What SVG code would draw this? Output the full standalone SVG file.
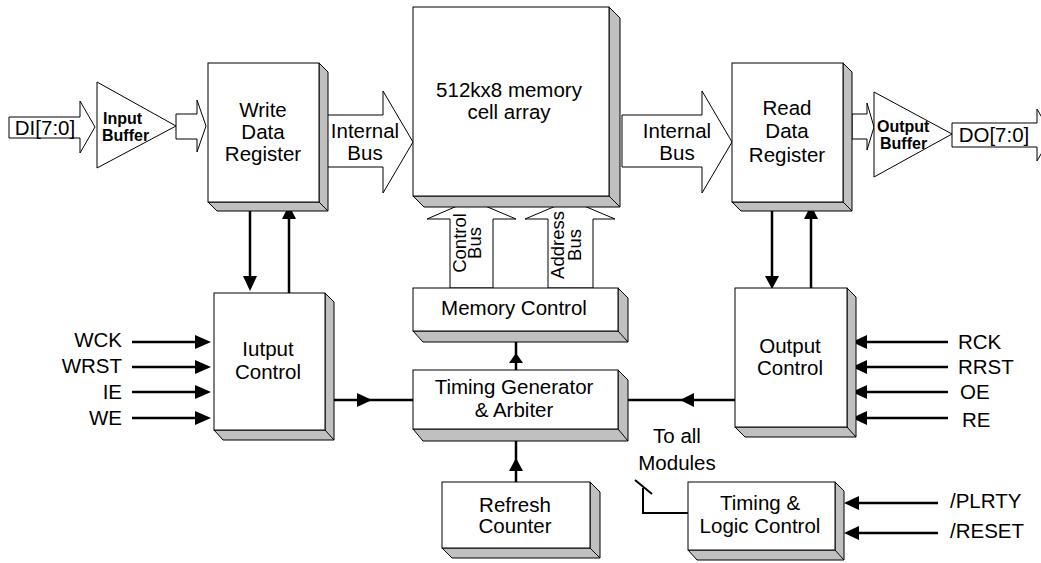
<svg xmlns="http://www.w3.org/2000/svg" width="1041" height="563" viewBox="0 0 1041 563">
<style>
text{font-family:"Liberation Sans",Arial,sans-serif;font-size:20.5px;fill:#000}
.c{text-anchor:middle}
.e{text-anchor:end}
.b{font-weight:bold;font-size:16px}
.r{font-size:18.5px;text-anchor:middle}
.face{fill:#fff;stroke:#000;stroke-width:1}
.sh{fill:#c0c0c0;stroke:#000;stroke-width:1}
.blk{fill:#fff;stroke:#000;stroke-width:1}
.ln{fill:none;stroke:#000;stroke-width:2.5}
.ah{fill:#000;stroke:none}
</style>
<rect width="1041" height="563" fill="#fff"/>

<g id="connectors">
  <polygon class="blk" points="9,117 80,117 80,101 95,127 80,153 80,138 9,138"/>
  <polygon class="blk" points="176,114 197,114 197,100 206,126 197,152 197,139 176,139"/>
  <polygon class="blk" points="319,115 383,115 383,91 413,142 383,193 383,167 319,167"/>
  <polygon class="blk" points="622,115 702,115 702,91 732,142 702,193 702,167 622,167"/>
  <polygon class="blk" points="852,114 867,114 867,103 874,127 867,150 867,139 852,139"/>
  <polygon class="blk" points="952,123 1037,123 1037,109 1052,135 1037,161 1037,147 952,147"/>
  <text class="c" x="45" y="135">DI[7:0]</text>
  <text class="c" x="365" y="138">Internal</text>
  <text class="c" x="365" y="160">Bus</text>
  <text class="c" x="677" y="138">Internal</text>
  <text class="c" x="677" y="160">Bus</text>
  <text class="c" x="994" y="142">DO[7:0]</text>

  <polygon class="blk" points="450,288 450,219 427,219 471,200 516,219 493,219 493,288"/>
  <polygon class="blk" points="548,288 548,219 525,219 570,200 615,219 593,219 593,288"/>
  <text class="r" transform="translate(466,243) rotate(-90)">Control</text>
  <text class="r" transform="translate(481,243) rotate(-90)">Bus</text>
  <text class="r" transform="translate(564,245) rotate(-90)">Address</text>
  <text class="r" transform="translate(581,245) rotate(-90)">Bus</text>

  <line class="ln" x1="250" y1="211" x2="250" y2="278"/>
  <polygon class="ah" points="243,276 257,276 250,291"/>
  <line class="ln" x1="289" y1="293" x2="289" y2="217"/>
  <polygon class="ah" points="282,219 296,219 289,205"/>
  <line class="ln" x1="772" y1="211" x2="772" y2="278"/>
  <polygon class="ah" points="765,276 779,276 772,289"/>
  <line class="ln" x1="811" y1="288" x2="811" y2="217"/>
  <polygon class="ah" points="804,219 818,219 811,205"/>

  <line class="ln" x1="132" y1="342" x2="198" y2="342"/>
  <polygon class="ah" points="195,335 195,349 211,342"/>
  <line class="ln" x1="132" y1="367" x2="198" y2="367"/>
  <polygon class="ah" points="195,360 195,374 211,367"/>
  <line class="ln" x1="132" y1="392" x2="198" y2="392"/>
  <polygon class="ah" points="195,385 195,399 211,392"/>
  <line class="ln" x1="132" y1="418" x2="198" y2="418"/>
  <polygon class="ah" points="195,411 195,425 211,418"/>
  <text class="e" x="122" y="347">WCK</text>
  <text class="e" x="122" y="373">WRST</text>
  <text class="e" x="122" y="399">IE</text>
  <text class="e" x="122" y="425">WE</text>

  <line class="ln" x1="948" y1="342" x2="865" y2="342"/>
  <polygon class="ah" points="867,335 867,349 852,342"/>
  <line class="ln" x1="948" y1="367" x2="865" y2="367"/>
  <polygon class="ah" points="867,360 867,374 852,367"/>
  <line class="ln" x1="948" y1="392" x2="865" y2="392"/>
  <polygon class="ah" points="867,385 867,399 852,392"/>
  <line class="ln" x1="948" y1="418" x2="865" y2="418"/>
  <polygon class="ah" points="867,411 867,425 852,418"/>
  <text x="958" y="349">RCK</text>
  <text x="958" y="374">RRST</text>
  <text x="960" y="399">OE</text>
  <text x="962" y="427">RE</text>

  <line class="ln" x1="334" y1="400" x2="413" y2="400"/>
  <polygon class="ah" points="357,393 357,407 372,400"/>
  <line class="ln" x1="618" y1="400" x2="737" y2="400"/>
  <polygon class="ah" points="694,393 694,407 680,400"/>
  <line class="ln" x1="516" y1="370" x2="516" y2="342"/>
  <polygon class="ah" points="509,363 523,363 516,353"/>
  <line class="ln" x1="516" y1="482" x2="516" y2="441"/>
  <polygon class="ah" points="509,471 523,471 516,458"/>

  <line class="ln" x1="938" y1="503" x2="857" y2="503"/>
  <polygon class="ah" points="859,496 859,510 844,503"/>
  <line class="ln" x1="938" y1="533" x2="857" y2="533"/>
  <polygon class="ah" points="859,526 859,540 844,533"/>
  <text x="950" y="508">/PLRTY</text>
  <text x="950" y="538">/RESET</text>
  <polyline points="688,513 643,513 643,488" fill="none" stroke="#000" stroke-width="2"/>
  <line x1="635" y1="480" x2="652" y2="494" stroke="#000" stroke-width="2"/>
  <text class="c" x="677" y="443">To all</text>
  <text class="c" x="677" y="470">Modules</text>
</g>

<g id="input-buffer">
  <polygon class="blk" points="97,82 176,126 97,168"/>
  <text class="b" x="103" y="124">Input</text>
  <text class="b" x="102" y="141">Buffer</text>
</g>

<g id="output-buffer">
  <polygon class="blk" points="874,92 952,134 874,177"/>
  <text class="b" x="877" y="132">Output</text>
  <text class="b" x="880" y="149">Buffer</text>
</g>

<g id="write-data-register">
  <polygon class="sh" points="319,63 328,72 328,211 217,211 208,202 319,202"/>
  <line x1="319" y1="202" x2="328" y2="211" stroke="#000"/>
  <rect class="face" x="208" y="63" width="111" height="139"/>
  <text class="c" x="263" y="117">Write</text>
  <text class="c" x="263" y="139">Data</text>
  <text class="c" x="263" y="161">Register</text>
</g>

<g id="memory-array">
  <polygon class="sh" points="609,7 620,18 620,207 424,207 413,196 609,196"/>
  <line x1="609" y1="196" x2="620" y2="207" stroke="#000"/>
  <rect class="face" x="413" y="7" width="196" height="189"/>
  <text class="c" x="509" y="97">512kx8 memory</text>
  <text class="c" x="509" y="119">cell array</text>
</g>

<g id="read-data-register">
  <polygon class="sh" points="843,63 852,72 852,211 741,211 732,202 843,202"/>
  <line x1="843" y1="202" x2="852" y2="211" stroke="#000"/>
  <rect class="face" x="732" y="63" width="111" height="139"/>
  <text class="c" x="787" y="115">Read</text>
  <text class="c" x="787" y="138">Data</text>
  <text class="c" x="787" y="162">Register</text>
</g>

<g id="iutput-control">
  <polygon class="sh" points="325,293 334,302 334,440 223,440 214,430 325,430"/>
  <line x1="325" y1="430" x2="334" y2="440" stroke="#000"/>
  <rect class="face" x="214" y="293" width="111" height="137"/>
  <text class="c" x="268" y="356">Iutput</text>
  <text class="c" x="268" y="379">Control</text>
</g>

<g id="memory-control">
  <polygon class="sh" points="618,288 628,298 628,342 423,342 413,331 618,331"/>
  <line x1="618" y1="331" x2="628" y2="342" stroke="#000"/>
  <rect class="face" x="413" y="288" width="205" height="43"/>
  <text class="c" x="514" y="315">Memory Control</text>
</g>

<g id="timing-generator">
  <polygon class="sh" points="618,370 628,380 628,441 423,441 413,429 618,429"/>
  <line x1="618" y1="429" x2="628" y2="441" stroke="#000"/>
  <rect class="face" x="413" y="370" width="205" height="59"/>
  <text class="c" x="514" y="394">Timing Generator</text>
  <text class="c" x="514" y="417">&amp; Arbiter</text>
</g>

<g id="refresh-counter">
  <polygon class="sh" points="590,482 600,492 600,558 452,558 442,548 590,548"/>
  <line x1="590" y1="548" x2="600" y2="558" stroke="#000"/>
  <rect class="face" x="442" y="482" width="148" height="66"/>
  <text class="c" x="515" y="512">Refresh</text>
  <text class="c" x="515" y="533">Counter</text>
</g>

<g id="output-control">
  <polygon class="sh" points="847,288 856,297 856,437 745,437 735,427 847,427"/>
  <line x1="847" y1="427" x2="856" y2="437" stroke="#000"/>
  <rect class="face" x="735" y="288" width="112" height="139"/>
  <text class="c" x="790" y="353">Output</text>
  <text class="c" x="790" y="375">Control</text>
</g>

<g id="timing-logic-control">
  <polygon class="sh" points="835,482 844,491 844,560 697,560 688,550 835,550"/>
  <line x1="835" y1="550" x2="844" y2="560" stroke="#000"/>
  <rect class="face" x="688" y="482" width="147" height="68"/>
  <text class="c" x="760" y="510">Timing &amp;</text>
  <text class="c" x="760" y="533">Logic Control</text>
</g>
</svg>
